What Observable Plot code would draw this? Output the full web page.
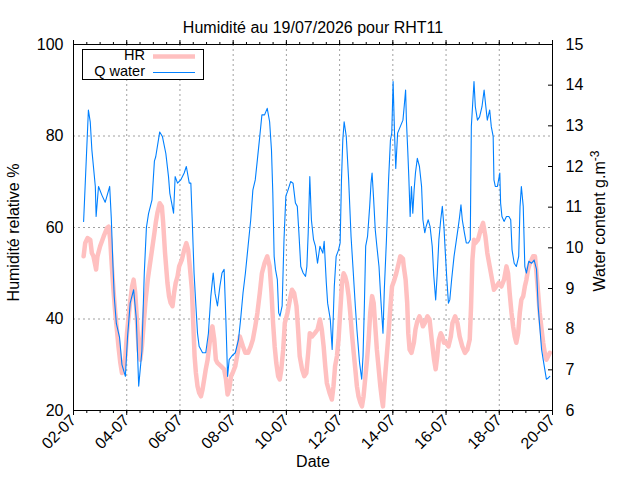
<!DOCTYPE html>
<html>
<head>
<meta charset="utf-8">
<script src="https://cdn.jsdelivr.net/npm/d3@7"></script>
<script src="https://cdn.jsdelivr.net/npm/@observablehq/plot@0.6"></script>
<style>
  html, body { margin: 0; padding: 0; background: #fff; }
  svg { display: block; }
</style>
</head>
<body>
<div id="chart"></div>
<script>
const title = "Humidité au 19/07/2026 pour RHT11";
const xLabel = "Date";
const yLabel = "Humidité relative %";
const y2Label = "Water content g.m";
const y2Sup = "-3";
const seriesNames = ["HR", "Q water"];

// time = days elapsed since 02-07-2026 00:00 (UTC)
const hrDay = [0.38,0.44,0.53,0.63,0.69,0.75,0.85,0.90,1.00,1.13,1.26,1.32,1.38,1.44,1.51,1.57,1.63,1.69,1.76,1.82,1.88,1.95,2.01,2.11,2.20,2.26,2.32,2.39,2.45,2.51,2.57,2.64,2.70,2.79,2.86,2.95,3.04,
  3.09,3.15,3.24,3.32,3.37,3.44,3.53,3.59,3.65,3.72,3.78,3.84,3.91,3.97,4.07,4.16,4.24,4.31,4.37,4.45,4.50,4.55,4.60,4.66,4.72,4.79,4.85,4.91,4.97,5.04,5.10,5.16,5.22,5.29,5.35,5.41,5.54,5.66,5.73,5.79,5.85,5.92,5.98,6.08,6.17,
  6.25,6.37,6.46,6.56,6.66,6.74,6.83,6.91,7.00,7.08,7.18,7.28,7.37,7.44,7.50,7.56,7.62,7.69,7.75,7.81,7.88,7.94,8.04,8.13,8.21,8.29,8.38,8.44,8.50,8.59,8.67,8.75,8.82,8.88,8.97,9.07,9.17,9.26,
  9.33,9.40,9.46,9.52,9.62,9.71,9.77,9.83,9.90,9.96,10.02,10.09,10.15,10.21,10.27,10.34,10.40,10.46,10.53,10.59,10.65,10.71,10.78,10.84,10.90,10.97,11.03,11.09,11.15,11.22,11.28,11.34,11.40,11.47,11.53,11.59,11.63,11.68,11.76,11.84,11.91,11.97,12.06,12.13,12.22,12.28,12.38,
  12.41,12.48,12.54,12.58,12.63,12.70,12.79,12.85,12.92,13.00,13.08,13.13,13.20,13.30,13.38,13.46,13.55,13.61,13.67,13.73,13.80,13.86,13.92,14.01,14.09,14.18,14.24,14.34,14.43,14.51,14.61,14.71,14.80,14.89,14.94,14.99,15.05,
  15.10,15.20,15.30,15.39,15.48,15.55,15.64,15.73,15.80,15.89,15.98,16.08,16.18,16.27,16.33,16.39,16.46,16.52,16.58,16.64,16.71,16.77,16.83,16.90,16.96,17.02,17.08,17.15,17.21,17.27,17.34,17.40,17.46,17.52,17.59,17.65,17.71,17.77,17.84,17.90];
const hrValue = [53.7,56.6,57.7,57.3,54.4,53.7,50.8,53.7,55.9,58,59.9,60.2,57.3,51.5,45.7,41.3,37.7,34,30.4,28.2,29.7,31.9,36.9,42.8,47.1,48.6,45.7,39.1,33.3,31.1,34,39.1,43.5,48.6,51.5,55.1,58.8,
  61,63.1,65.3,64.6,61,54.4,47.9,45,43.5,42.8,45.7,47.9,49.3,51.5,52.9,55.1,56.6,55.1,51.5,46.4,39.1,31.9,28.2,25.3,23.9,23.1,24.6,26.8,29,31.1,34,36.9,38.4,35.5,31.1,30.4,29.7,29,26.8,23.5,24.6,27.5,28.2,29.7,32.6,
  36.2,34,32.6,32.6,34,35.5,38.4,41.3,45.7,50,52.2,53.7,51.5,45.7,39.1,34,30.4,27.5,26.8,29,33.3,39.1,41.3,44.2,46.4,45.7,42.8,37.7,31.9,29,27.5,28.2,32.6,36.9,36.2,36.9,37.7,39.9,
  37.7,34,29.7,26,23.9,22.4,25.3,29.7,31.9,35.5,41.3,47.9,50,49.3,47.9,45,41.3,36.9,32.6,29,25.3,23.1,21.7,20.9,23.1,27.5,31.1,35.5,41.3,45,43.5,38.4,33.3,29,25.3,22.4,20.9,25.3,31.1,36.9,42.8,47.1,48.6,50,52.2,53.7,53.2,
  51.5,48.6,43.5,36.9,33.3,32.6,34.8,37.7,39.5,40.6,39.5,38.4,39.1,40.6,39.9,35.5,31.1,29,31.9,35.5,36.9,36.2,34.8,34.8,34,36.2,39.1,40.6,39.1,36.2,34,32.6,33.3,35.5,42.8,52.9,57.3,
  56.6,57.3,59.5,61,58,54.4,51.5,48.6,46.4,47.1,47.9,47.1,48.6,51.5,50,45.7,41.3,38.4,36.2,34.8,36.9,41.3,44.2,45,47.1,48.6,50.8,52.2,52.9,53.7,53.7,50,45.7,41.3,37.7,34.8,32.6,31.1,31.9,32.6];

const qDay = [0.38,0.56,0.63,0.69,0.82,0.85,0.94,1.07,1.19,1.36,1.42,1.48,1.53,1.61,1.73,1.82,1.95,2.03,2.13,2.26,2.36,2.45,2.57,2.66,2.74,2.82,2.95,3.04,
  3.09,3.24,3.34,3.47,3.57,3.62,3.69,3.76,3.82,3.91,4.03,4.16,4.24,4.35,4.41,4.47,4.53,4.60,4.66,4.72,4.85,4.97,5.07,5.16,5.25,5.32,5.41,5.50,5.58,5.66,5.73,5.79,5.85,5.95,6.08,6.20,
  6.28,6.37,6.46,6.56,6.66,6.74,6.83,6.91,7.00,7.08,7.18,7.28,7.37,7.44,7.49,7.54,7.59,7.66,7.71,7.76,7.84,7.91,7.98,8.06,8.16,8.25,8.34,8.41,8.47,8.54,8.63,8.72,8.77,8.82,8.88,8.94,9.02,9.09,9.17,9.26,
  9.37,9.42,9.50,9.55,9.65,9.72,9.80,9.87,9.96,10.02,10.07,10.12,10.17,10.25,10.34,10.43,10.50,10.59,10.65,10.75,10.83,10.88,10.93,10.98,11.05,11.13,11.18,11.22,11.28,11.34,11.40,11.48,11.55,11.63,11.68,11.76,11.84,11.91,11.96,12.01,12.06,12.11,12.18,12.28,12.38,12.43,12.48,
  12.51,12.56,12.60,12.65,12.70,12.75,12.80,12.85,12.92,13.00,13.08,13.13,13.20,13.25,13.33,13.40,13.48,13.54,13.61,13.67,13.73,13.80,13.86,13.92,13.98,14.03,14.09,14.14,14.21,14.30,14.39,14.46,14.51,14.56,14.61,14.69,14.76,14.84,14.91,14.95,
  15.05,15.10,15.18,15.26,15.35,15.43,15.48,15.55,15.64,15.70,15.77,15.80,15.85,15.93,16.02,16.05,16.10,16.18,16.27,16.36,16.43,16.48,16.56,16.64,16.73,16.78,16.83,16.90,16.96,17.02,17.11,17.21,17.31,17.40,17.46,17.52,17.59,17.65,17.71,17.77,17.84,17.90];
const qValue = [10.65,13.39,13.09,12.41,11.51,10.77,11.51,11.29,11.12,11.51,10.73,9.6,8.81,8.14,7.8,7.13,6.84,7.8,8.64,8.97,8.25,6.6,7.46,9.38,10.5,10.84,11.18,12.13,
  12.24,12.85,12.74,12.32,11.75,11.34,11.1,10.85,11.75,11.59,11.67,11.84,12.0,11.59,11.59,10.52,9.38,8.57,7.9,7.58,7.42,7.42,7.9,8.8,9.38,8.88,8.57,9.05,9.38,9.47,8.15,6.84,7.25,7.34,7.42,7.74,
  8.24,8.89,9.38,10.04,10.69,11.42,11.67,12.17,12.74,13.27,13.27,13.43,13.1,12.4,11.34,9.79,9.47,9.22,8.4,8.32,8.57,10.2,11.27,11.42,11.63,11.59,11.1,11.02,10.37,9.54,9.38,9.3,9.54,10.37,11.75,10.69,10.2,10.04,9.62,10.04,
  9.87,10.16,9.14,8.64,8.24,7.5,9.05,9.79,9.95,10.12,11.67,12.65,13.1,12.74,11.67,10.28,9.54,8.57,7.99,7.17,6.77,7.34,8.57,10.04,10.28,11.02,11.59,11.84,11.18,10.44,10.04,9.54,8.72,7.9,8.97,10.2,11.67,12.65,12.82,14.09,12.9,11.95,12.82,12.98,13.14,13.5,13.88,
  13.14,12.4,11.75,10.77,11.51,10.85,11.42,11.84,12.2,12.0,11.51,10.69,10.37,10.52,10.69,10.52,10.04,9.3,8.72,9.38,10.2,10.69,11.02,10.52,9.79,9.22,8.64,8.72,9.22,9.79,10.2,10.52,10.77,11.06,10.69,10.37,10.12,10.12,10.2,12.98,
  14.09,13.47,13.14,13.22,13.47,13.88,13.56,13.14,13.39,12.98,12.74,11.67,11.51,11.51,11.84,11.1,10.77,10.65,10.77,10.77,10.69,9.95,9.62,9.54,9.79,11.02,11.51,11.02,9.54,9.38,9.67,9.62,9.7,9.47,8.57,8.07,7.5,7.25,7.01,6.77,6.8,6.84];

const dateTicks = ["02-07","04-07","06-07","08-07","10-07","12-07","14-07","16-07","18-07","20-07"];
const hrTicks = [20, 40, 60, 80, 100];
const waterTicks = [6, 7, 8, 9, 10, 11, 12, 13, 14, 15];

const pink = "#ffc0c0";
const blue = "#0080ff";
const gridColor = "#a0a0a0";
const font = "'Liberation Sans', Arial, sans-serif";
const fs = 16;

const start = Date.UTC(2026, 6, 2);
const toDate = d => new Date(start + d * 864e5);
const parseTick = d3.utcParse("%d-%m-%Y");
const tickDates = dateTicks.map(s => parseTick(s + "-2026"));
const minorDates = d3.utcHours(tickDates[0], tickDates[tickDates.length - 1], 12);

const hr = hrDay.map((d, i) => ({date: toDate(d), value: hrValue[i]}));
const q = qDay.map((d, i) => ({date: toDate(d), value: qValue[i]}));

// map the water-content axis (right) onto the humidity axis (left)
const w2y = d3.scaleLinear([waterTicks[0], waterTicks[waterTicks.length - 1]], [hrTicks[0], hrTicks[hrTicks.length - 1]]);

function decorations(index, scales, values, dims) {
  const g = d3.create("svg:g").attr("font-family", font).attr("font-size", fs).attr("fill", "black");
  const L = dims.marginLeft, T = dims.marginTop;
  const R = dims.width - dims.marginRight;
  const B = dims.height - dims.marginBottom;
  // legend
  g.append("rect").attr("x", L + 9.5).attr("y", T + 5.5).attr("width", 121).attr("height", 30)
    .attr("fill", "white").attr("stroke", "black");
  const entries = [{name: seriesNames[0], color: pink, w: 4.5, y: T + 12.5},
                   {name: seriesNames[1], color: blue, w: 1.2, y: T + 28.5}];
  for (const e of entries) {
    g.append("text").attr("x", L + 72).attr("y", e.y).attr("text-anchor", "end")
      .attr("font-size", 14.5).attr("dominant-baseline", "middle").text(e.name);
    g.append("line").attr("x1", L + 80).attr("x2", L + 122).attr("y1", e.y).attr("y2", e.y)
      .attr("stroke", e.color).attr("stroke-width", e.w);
  }
  // right axis label with superscript
  const cy = (T + B) / 2 - 6;
  const t = g.append("text").attr("transform", `translate(${R + 49},${cy}) rotate(-90)`)
    .attr("text-anchor", "middle").attr("dominant-baseline", "middle");
  t.append("tspan").text(y2Label);
  t.append("tspan").attr("dy", "-0.45em").attr("font-size", 12).text(y2Sup);
  return g.node();
}

const chart = Plot.plot({
  width: 640,
  height: 480,
  marginLeft: 73,
  marginRight: 88,
  marginTop: 44,
  marginBottom: 70,
  style: {fontFamily: font, fontSize: fs + "px", background: "white", color: "black", overflow: "visible"},
  x: {type: "utc", domain: [tickDates[0], tickDates[tickDates.length - 1]], axis: null},
  y: {domain: [hrTicks[0], hrTicks[hrTicks.length - 1]], axis: null},
  marks: [
    Plot.gridX(tickDates.slice(1, -1), {stroke: gridColor, strokeOpacity: 1, strokeDasharray: "2,3"}),
    Plot.gridY(hrTicks.slice(1, -1), {stroke: gridColor, strokeOpacity: 1, strokeDasharray: "2,3"}),
    Plot.line(hr, {x: "date", y: "value", stroke: pink, strokeWidth: 4.5}),
    Plot.line(q, {x: "date", y: d => w2y(d.value), stroke: blue, strokeWidth: 1.1}),
    Plot.frame({stroke: "black", strokeWidth: 1}),
    Plot.axisX(minorDates, {anchor: "bottom", tickSize: 3, tickFormat: () => "", label: null}),
    Plot.axisX(minorDates, {anchor: "top", tickSize: 3, tickFormat: () => "", label: null}),
    Plot.axisX(tickDates, {anchor: "bottom", tickSize: 5, tickPadding: 2, tickRotate: -45,
      tickFormat: d3.utcFormat("%d-%m"), label: null, fontSize: fs}),
    Plot.axisX(tickDates, {anchor: "top", tickSize: 5, tickFormat: () => "", label: null}),
    Plot.axisY(hrTicks, {anchor: "left", tickSize: 0, tickPadding: 10, label: null, fontSize: fs}),
    Plot.axisY(waterTicks, {anchor: "right", y: w2y, tickSize: 5, dx: -5, tickFormat: () => "", label: null}),
    Plot.axisY(waterTicks, {anchor: "right", y: w2y, tickSize: 0, tickPadding: 13,
      tickFormat: d => String(d), label: null, fontSize: fs}),
    Plot.text([title], {frameAnchor: "top", dy: -23, fontSize: fs}),
    Plot.text([xLabel], {frameAnchor: "bottom", dy: 56, fontSize: fs}),
    Plot.text([yLabel], {frameAnchor: "left", dx: -60, dy: 5, rotate: -90, textAnchor: "middle", fontSize: fs}),
    decorations
  ]
});
document.getElementById("chart").append(chart);
</script>
</body>
</html>
